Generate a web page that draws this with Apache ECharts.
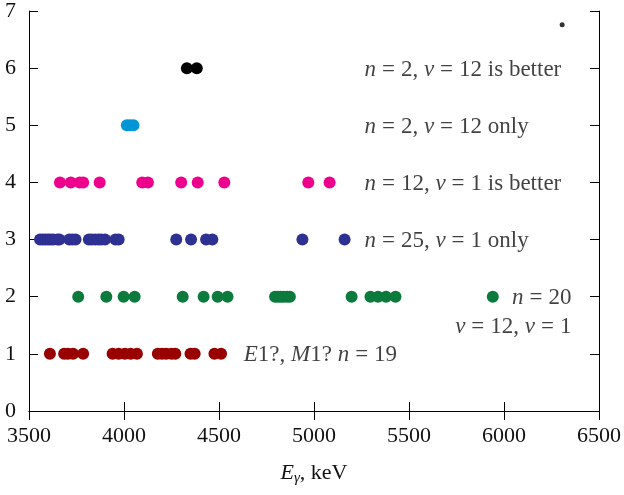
<!DOCTYPE html>
<html>
<head>
<meta charset="utf-8">
<script src="https://cdn.jsdelivr.net/npm/echarts@6/dist/echarts.min.js"></script>
<style>
  html, body { margin: 0; padding: 0; background: #fff; }
  #chart { width: 624px; height: 495px; }
</style>
</head>
<body>
<div id="chart"></div>
<script>
// Gamma energies (keV) for each row of the plot
const row1Red = [3610, 3685, 3705, 3732, 3785, 3940, 3972, 4005, 4035, 4068, 4178, 4200, 4222, 4250, 4270, 4350, 4372, 4476, 4511];
const row2Green = [3759, 3907, 3998, 4056, 4309, 4419, 4493, 4545, 4795, 4810, 4825, 4840, 4858, 4873, 5198, 5297, 5337, 5379, 5429, 5941];
const row3Blue = [3558, 3572, 3586, 3600, 3614, 3628, 3650, 3660, 3712, 3728, 3745, 3815, 3830, 3848, 3865, 3880, 3900, 3955, 3972, 4275, 4353, 4432, 4465, 4939, 5161];
const row4Pink = [3663, 3720, 3767, 3785, 3872, 4096, 4126, 4301, 4388, 4528, 4970, 5082];
const row5Cyan = [4015, 4032, 4050];
const row6Black = [4331, 4383];
const smallDot = [[6306, 6.76]];

const xTicks = [3500, 4000, 4500, 5000, 5500, 6000, 6500];
const yTicks = [0, 1, 2, 3, 4, 5, 6, 7];

const rowColors = ['#990000', '#0b7a3c', '#2e3192', '#ec008c', '#0096d6', '#000000'];
const rows = [row1Red, row2Green, row3Blue, row4Pink, row5Cyan, row6Black];

// annotation texts: [x, y, text, align]
const notes = [
    [5268, 6, '{i|n}{e|=}2, {i|ν}{e|=}12 is better', 'left'],
    [5268, 5, '{i|n}{e|=}2, {i|ν}{e|=}12 only', 'left'],
    [5268, 4, '{i|n}{e|=}12, {i|ν}{e|=}1 is better', 'left'],
    [5268, 3, '{i|n}{e|=}25, {i|ν}{e|=}1 only', 'left'],
    [6358, 2, '{i|n}{e|=}20', 'right'],
    [6358, 1.5, '{i|ν}{e|=}12, {i|ν}{e|=}1', 'right'],
    [4633, 1, '{i|E}1?, {i|M}1? {i|n}{e|=}19', 'left']
];

const serif = '"Liberation Serif", "DejaVu Serif", serif';
const fs = 22;
const noteFs = 23;
const chart = echarts.init(document.getElementById('chart'));

const dotSeries = rows.map((row, k) => ({
    type: 'scatter',
    symbolSize: 12,
    itemStyle: { color: rowColors[k], opacity: 1 },
    data: row.map(e => [e, k + 1]),
    z: 3
}));

const noteSeries = {
    type: 'scatter',
    symbolSize: 1,
    itemStyle: { color: 'rgba(0,0,0,0)' },
    silent: true,
    data: notes.map(n => ({
        value: [n[0], n[1]],
        label: {
            show: true,
            position: [0, 2],
            align: n[3],
            verticalAlign: 'middle',
            formatter: n[2],
            color: '#111',
            fontFamily: serif,
            fontSize: noteFs,
            rich: {
                i: { fontStyle: 'italic', fontFamily: serif, fontSize: noteFs, color: '#111' },
                e: { fontFamily: serif, fontSize: noteFs, color: '#111', padding: [0, 6, 0, 6] }
            }
        }
    })),
    z: 4
};

const axisCommon = {
    axisLine: { show: true, lineStyle: { color: '#000', width: 1 } },
    axisTick: { show: true, inside: true, length: 9, lineStyle: { color: '#000' } },
    splitLine: { show: false }
};

chart.setOption({
    animation: false,
    backgroundColor: '#fff',
    grid: { left: 29, right: 23, top: 11, bottom: 84 },
    xAxis: [{
        ...axisCommon,
        type: 'value',
        min: xTicks[0],
        max: xTicks[xTicks.length - 1],
        interval: 500,
        position: 'bottom',
        axisLabel: { color: '#111', fontFamily: serif, fontSize: fs, margin: 14, formatter: v => String(v) },
        name: '{i|E}{s|γ}, keV',
        nameLocation: 'middle',
        nameGap: 50,
        nameTextStyle: {
            color: '#111', fontFamily: serif, fontSize: fs,
            rich: {
                i: { fontStyle: 'italic', fontFamily: serif, fontSize: fs, color: '#111' },
                s: { fontStyle: 'italic', fontFamily: serif, fontSize: 15, color: '#111', padding: [10, 0, 0, 0] }
            }
        }
    }, {
        ...axisCommon,
        type: 'value',
        min: xTicks[0],
        max: xTicks[xTicks.length - 1],
        interval: 500,
        position: 'top',
        axisLabel: { show: false }
    }],
    yAxis: [{
        ...axisCommon,
        type: 'value',
        min: yTicks[0],
        max: yTicks[yTicks.length - 1],
        interval: 1,
        position: 'left',
        axisLabel: { color: '#111', fontFamily: serif, fontSize: fs, margin: 13 }
    }, {
        ...axisCommon,
        type: 'value',
        min: yTicks[0],
        max: yTicks[yTicks.length - 1],
        interval: 1,
        position: 'right',
        axisLabel: { show: false }
    }],
    series: [
        ...dotSeries,
        {
            type: 'scatter',
            symbolSize: 5,
            itemStyle: { color: '#000' },
            data: smallDot
        },
        noteSeries
    ]
});
</script>
</body>
</html>
